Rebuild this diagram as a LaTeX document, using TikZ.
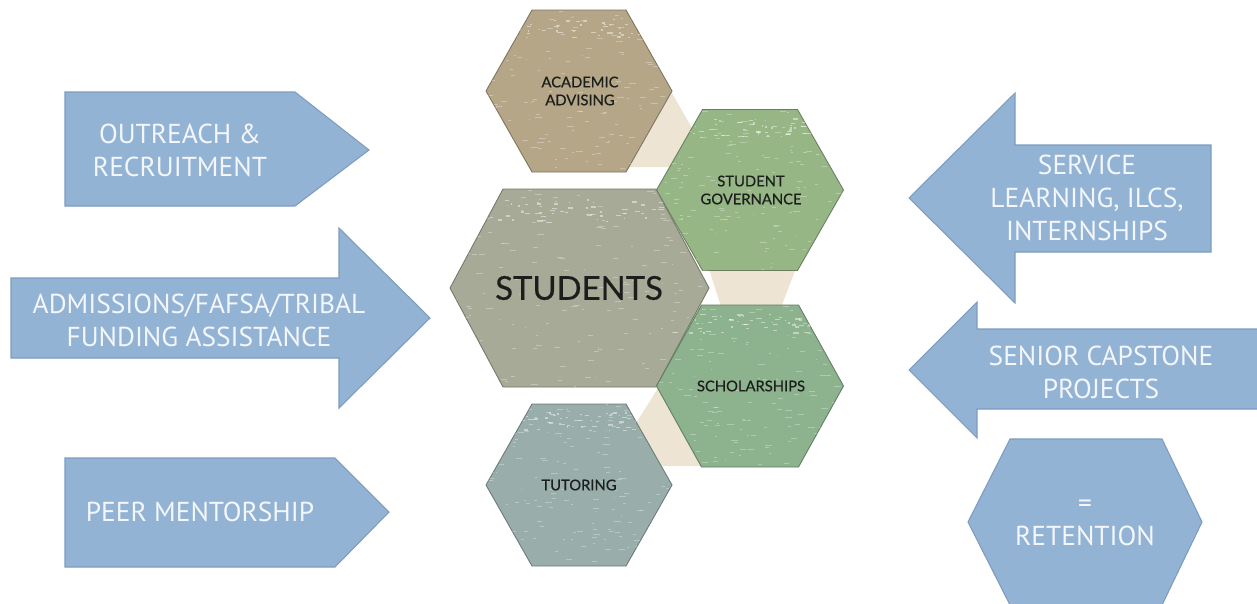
\documentclass[tikz,border=0pt]{standalone}
\usepackage{fontspec}
\setmainfont{PT Sans}
\newfontfamily\hexfont[FakeBold=0.5]{Lato}
\usepackage{tikz}
\definecolor{arrowblue}{HTML}{93B3D5}
\definecolor{arrowedge}{HTML}{7C9CC0}
\definecolor{arrowtext}{HTML}{F3F6FA}
\definecolor{linkbeige}{HTML}{EEE4D4}
\definecolor{celltan}{HTML}{B5A687}
\definecolor{cellgreen}{HTML}{96B686}
\definecolor{cellgrey}{HTML}{A8AA98}
\definecolor{cellsage}{HTML}{8DB28E}
\definecolor{cellslate}{HTML}{99AEAB}
\definecolor{celltext}{HTML}{1C1E1C}

\begin{document}
\begin{tikzpicture}[x=0.02cm, y=-0.02cm]
\tikzstyle{feeder} = [fill=arrowblue, draw=arrowedge, line width=0.6pt]
\tikzstyle{feedtext} = [text=arrowtext, align=center, inner sep=0pt,
    font=\fontsize{15.6}{18.8}\selectfont]
\tikzstyle{link} = [fill=linkbeige]
\tikzstyle{cell} = [text=celltext, align=center, inner sep=0pt,
    font=\hexfont\fontsize{8.4}{10.2}\selectfont]

\useasboundingbox (0,0) rectangle (1257,603);
\clip (0,0) rectangle (1257,603);

\draw[feeder] (65,92) -- (295,92) -- (369,150) -- (295,206) -- (65,206) -- cycle;
\node[feedtext] (outreach) at (180,150) {OUTREACH \&\\RECRUITMENT};

\draw[feeder] (11,278) -- (339,278) -- (339,228) -- (430,318) -- (339,408)
    -- (339,358) -- (11,358) -- cycle;
\node[feedtext] (admissions) at (199,320) {ADMISSIONS/FAFSA/TRIBAL\\FUNDING ASSISTANCE};

\draw[feeder] (65,458) -- (335,458) -- (389,512) -- (335,567) -- (65,567) -- cycle;
\node[feedtext] (mentorship) at (200,512) {PEER MENTORSHIP};

\draw[feeder] (909,198) -- (1015,93) -- (1015,145) -- (1211,145) -- (1211,252)
    -- (1015,252) -- (1015,303) -- cycle;
\node[feedtext] (service) at (1087,198) {SERVICE\\LEARNING, ILCS,\\INTERNSHIPS};

\draw[feeder] (909,370) -- (977,302) -- (977,329) -- (1262,329) -- (1262,409)
    -- (977,409) -- (977,438) -- cycle;
\node[feedtext] (capstone) at (1101,372) {SENIOR CAPSTONE\\PROJECTS};

\draw[feeder] (968,522) -- (1010,439) -- (1162,439) -- (1202,522) -- (1162,605)
    -- (1010,605) -- cycle;
\node[feedtext] (retention) at (1085,523) {=\\RETENTION};

\fill[link] (668,86) -- (697,137) -- (690,167) -- (625,167) -- cycle;
\fill[link] (703,250) -- (803,250) -- (780,310) -- (722,310) -- cycle;
\fill[link] (633,428) -- (663,380) -- (705,466) -- (655,466) -- cycle;

\pgfmathsetseed{4242}
\foreach \cx/\cy/\hw/\hh/\d/\col in {579/91/93/81/46/celltan,
    750/190/93.5/80.5/46/cellgreen, 579.5/288/129.5/99/53/cellgrey,
    750/386/93.5/81/45/cellsage, 579/485/93/81/46/cellslate}
{
  \begin{scope}
    \path[preaction={fill=\col, draw=\col!70!black, line width=0.5pt}, clip]
      (\cx-\hw,\cy) -- (\cx-\hw+\d,\cy-\hh) -- (\cx+\hw-\d,\cy-\hh)
      -- (\cx+\hw,\cy) -- (\cx+\hw-\d,\cy+\hh) -- (\cx-\hw+\d,\cy+\hh) -- cycle;
    \foreach \k in {1,...,150}{
      \pgfmathsetmacro\px{\cx+\hw*rand}
      \pgfmathsetmacro\py{\cy+\hh*rand}
      \pgfmathsetmacro\pl{1+6*rnd}
      \fill[white, opacity=0.3] (\px,\py) rectangle ++(\pl,1);
    }
    \foreach \k in {1,...,70}{
      \pgfmathsetmacro\px{\cx+\hw*rand}
      \pgfmathsetmacro\py{\cy-0.78*\hh+0.12*\hh*rand}
      \pgfmathsetmacro\pl{1+5*rnd}
      \fill[white, opacity=0.45] (\px,\py) rectangle ++(\pl,1.3);
    }
  \end{scope}
}

\node[cell] (advising) at (580,91) {ACADEMIC\\ADVISING};
\node[cell] (governance) at (751,190) {STUDENT\\GOVERNANCE};
\node[cell, font=\hexfont\fontsize{18.7}{22}\selectfont] (students) at (579,288) {STUDENTS};
\node[cell] (scholarships) at (751,386) {SCHOLARSHIPS};
\node[cell] (tutoring) at (579,485) {TUTORING};

\end{tikzpicture}
\end{document}
